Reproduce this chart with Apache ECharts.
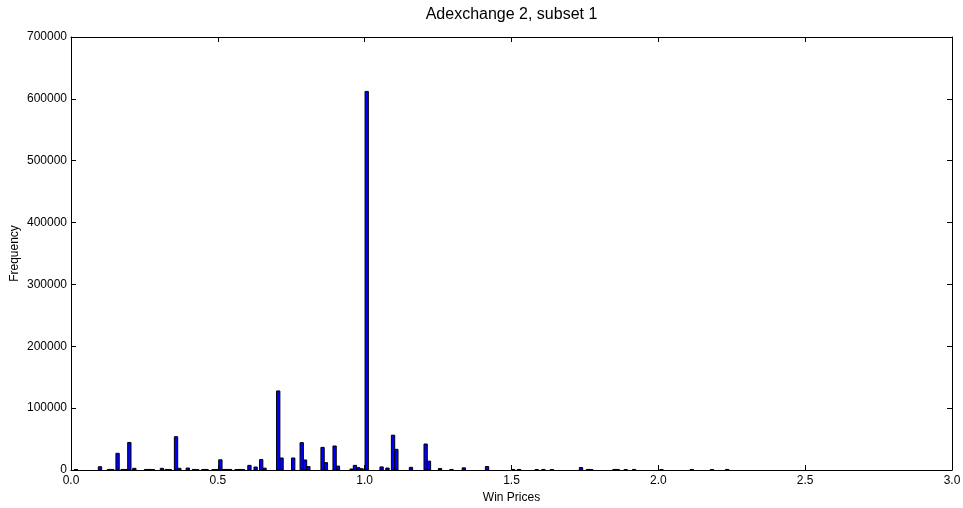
<!DOCTYPE html>
<html>
<head>
<meta charset="utf-8">
<script src="https://cdn.jsdelivr.net/npm/echarts@6/dist/echarts.min.js"></script>
<style>
  html, body { margin: 0; padding: 0; background: #ffffff; }
  #chart { width: 963px; height: 508px; }
</style>
</head>
<body>
<div id="chart"></div>
<script>
// Histogram of win prices: left edge of each bin and its count.
const BIN_WIDTH = 0.0113;
const binStart = [
  0.011, 0.093, 0.124, 0.135, 0.153, 0.170, 0.181, 0.193, 0.210, 0.250,
  0.262, 0.273, 0.304, 0.320, 0.331, 0.352, 0.3633, 0.392, 0.413, 0.424,
  0.445, 0.456, 0.480, 0.491, 0.503, 0.5143, 0.5256, 0.536, 0.558, 0.569,
  0.580, 0.602, 0.623, 0.642, 0.6533, 0.700, 0.7113, 0.751, 0.780, 0.7913,
  0.8026, 0.851, 0.8623, 0.892, 0.9033, 0.950, 0.9613, 0.9726, 0.9839, 1.0013,
  1.052, 1.072, 1.091, 1.1023, 1.152, 1.202, 1.2133, 1.251, 1.290, 1.332,
  1.411, 1.500, 1.520, 1.580, 1.603, 1.632, 1.731, 1.755, 1.766, 1.845,
  1.856, 1.883, 1.912, 2.005, 2.108, 2.177, 2.229
];
const frequency = [
  800, 5300, 900, 900, 27000, 900, 800, 44500, 2700, 900,
  900, 800, 2700, 900, 800, 53800, 2700, 3200, 900, 800,
  900, 900, 800, 900, 16500, 900, 900, 900, 800, 900,
  800, 7500, 4800, 16800, 3000, 127800, 19400, 19400, 44200, 16200,
  5500, 36600, 11900, 38800, 6300, 1600, 7500, 3800, 2000, 612000,
  5000, 3200, 56300, 33400, 4300, 42000, 14300, 2500, 900, 3500,
  5600, 900, 900, 800, 900, 800, 4000, 900, 800, 900,
  900, 800, 900, 800, 800, 800, 900
];

const titleText = 'Adexchange 2, subset 1';
const xLabel = 'Win Prices';
const yLabel = 'Frequency';
const xRange = [0, 3.0];
const xStep = 0.5;
const yRange = [0, 700000];
const yStep = 100000;

const FONT = '"Liberation Sans", Arial, sans-serif';
const chart = echarts.init(document.getElementById('chart'), null, { renderer: 'canvas' });

const grid = {
  left: 71, right: 11, top: 37, bottom: 38,
  containLabel: false,
  outerBoundsMode: 'none'
};

function valueAxis(pos, range, step, showLabels, extra) {
  return Object.assign({
    type: 'value',
    position: pos,
    min: range[0],
    max: range[1],
    interval: step,
    nameMoveOverlap: false,
    axisLine: { show: true, onZero: false, lineStyle: { color: '#000', width: 1 } },
    axisTick: { show: true, inside: true, length: 5, lineStyle: { color: '#000', width: 1 } },
    splitLine: { show: false },
    axisLabel: { show: showLabels, color: '#000', fontFamily: FONT, fontSize: 12 }
  }, extra || {});
}

const data = binStart.map((x, i) => [x, frequency[i]]);

chart.setOption({
  animation: false,
  backgroundColor: '#ffffff',
  grid: grid,
  graphic: [{
    type: 'text',
    x: 0,
    y: 0,
    style: {
      text: titleText,
      x: 511.5, y: 15,
      align: 'center', verticalAlign: 'middle',
      fontFamily: FONT, fontSize: 16, fill: '#000'
    }
  }],
  xAxis: [
    valueAxis('bottom', xRange, xStep, true, {
      name: xLabel,
      nameLocation: 'middle',
      nameGap: 22,
      nameTextStyle: { color: '#000', fontFamily: FONT, fontSize: 12 },
      axisLabel: {
        show: true, color: '#000', fontFamily: FONT, fontSize: 12, margin: 5,
        formatter: v => v.toFixed(1)
      }
    }),
    valueAxis('top', xRange, xStep, false)
  ],
  yAxis: [
    valueAxis('left', yRange, yStep, true, {
      name: yLabel,
      nameLocation: 'middle',
      nameGap: 50,
      nameTextStyle: { color: '#000', fontFamily: FONT, fontSize: 12 },
      axisLabel: {
        show: true, color: '#000', fontFamily: FONT, fontSize: 12, margin: 4,
        formatter: v => String(v)
      }
    }),
    valueAxis('right', yRange, yStep, false)
  ],
  series: [{
    type: 'custom',
    xAxisIndex: 0,
    yAxisIndex: 0,
    data: data,
    encode: { x: 0, y: 1 },
    renderItem: function (params, api) {
      const x0 = api.value(0);
      const v = api.value(1);
      const top = api.coord([x0, v]);
      const base = api.coord([x0 + BIN_WIDTH, 0]);
      return {
        type: 'rect',
        shape: {
          x: top[0],
          y: top[1],
          width: base[0] - top[0],
          height: base[1] - top[1]
        },
        style: { fill: '#0000ff', stroke: '#000000', lineWidth: 1 }
      };
    }
  }]
});
</script>
</body>
</html>
